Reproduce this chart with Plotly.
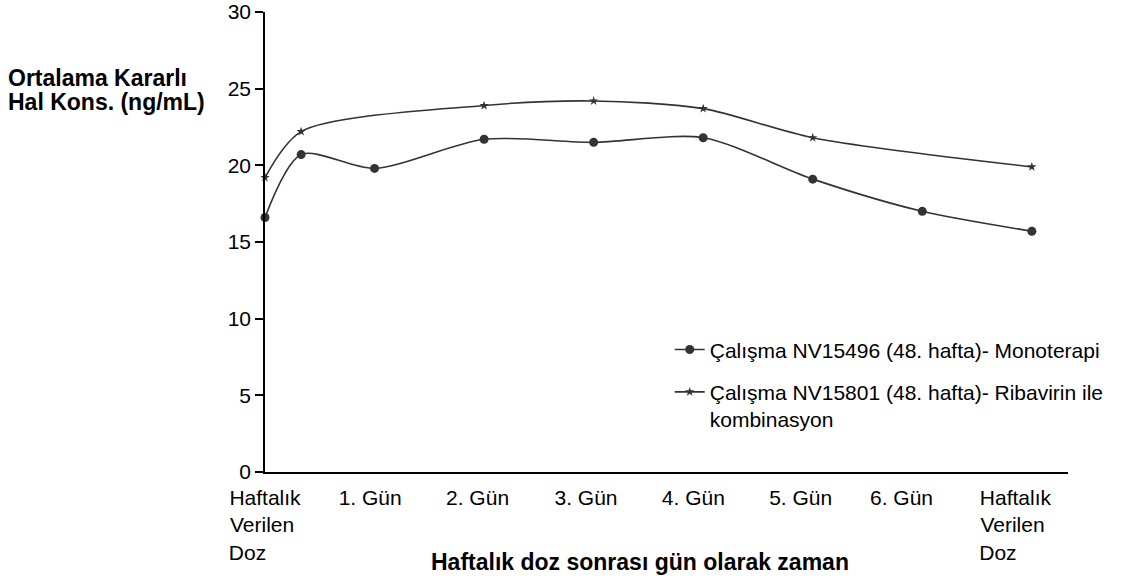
import plotly.graph_objects as go

# Data (days after weekly dose)
days_mono = [0, 0.33, 1, 2, 3, 4, 5, 6, 7]
conc_mono = [16.6, 20.7, 19.8, 21.7, 21.5, 21.8, 19.1, 17.0, 15.7]

days_combo = [0, 0.33, 2, 3, 4, 5, 7]
conc_combo = [19.2, 22.2, 23.9, 24.2, 23.7, 21.8, 19.9]

name_mono = "Çalışma NV15496 (48. hafta)- Monoterapi"
name_combo = "Çalışma NV15801 (48. hafta)- Ribavirin ile<br>kombinasyon"

NB = "\u00a0"
dose_label = "Haftalık<br>Verilen" + NB + "<br>Doz" + NB * 6
tick_pos = [0, 0.96, 1.94, 2.93, 3.91, 4.89, 5.81, 6.85]
tick_text = [dose_label, "1. Gün", "2. Gün", "3. Gün", "4. Gün",
             "5. Gün", "6. Gün", dose_label]

y_title_lines = ["Ortalama Kararlı", "Hal Kons. (ng/mL)"]
x_title = "Haftalık doz sonrası gün olarak zaman"

FONT = "Liberation Sans, Arial, sans-serif"
LINE = "#333333"

fig = go.Figure()
fig.add_trace(go.Scatter(
    x=days_mono, y=conc_mono, name=name_mono, mode="lines+markers",
    line=dict(color=LINE, width=1.6, shape="spline", smoothing=0.8),
    marker=dict(symbol="circle", size=9, color=LINE),
    cliponaxis=False, legendgroup="a"))
fig.add_trace(go.Scatter(
    x=days_combo, y=conc_combo, name=name_combo, mode="lines+markers",
    line=dict(color=LINE, width=1.6, shape="spline", smoothing=0.8),
    marker=dict(symbol="star", size=7, color=LINE),
    cliponaxis=False, legendgroup="b"))

fig.update_layout(
    width=1121, height=583,
    margin=dict(l=265, r=53, t=12, b=111, autoexpand=False),
    plot_bgcolor="white", paper_bgcolor="white",
    font=dict(family=FONT, size=21, color="black"),
    showlegend=True,
    legend=dict(x=0.504, y=0.31, xanchor="left", yanchor="top",
                bgcolor="rgba(0,0,0,0)", font=dict(size=21, family=FONT),
                valign="top", tracegroupgap=12, itemwidth=30),
    xaxis=dict(range=[0, 7.33], tickmode="array", tickvals=tick_pos, ticktext=tick_text,
               showline=True, linecolor="black", linewidth=1.5, ticks="",
               showgrid=False, zeroline=False, tickfont=dict(size=21),
               ticklabelstandoff=6, automargin=False, fixedrange=True),
    yaxis=dict(range=[0, 30], tickmode="linear", tick0=0, dtick=5,
               showline=True, linecolor="black", linewidth=1.5,
               ticks="outside", ticklen=8, tickcolor="black", tickwidth=1.5,
               showgrid=False, zeroline=False, tickfont=dict(size=21),
               ticklabeloverflow="allow", automargin=False),
    annotations=[
        dict(text="<b>" + y_title_lines[0] + "</b>", xref="paper", yref="paper",
             x=-0.322, y=(472 - 78) / 460, xanchor="left", yanchor="middle",
             showarrow=False, font=dict(size=23, family=FONT)),
        dict(text="<b>" + y_title_lines[1] + "</b>", xref="paper", yref="paper",
             x=-0.322, y=(472 - 102) / 460, xanchor="left", yanchor="middle",
             showarrow=False, font=dict(size=23, family=FONT)),
        dict(text="<b>" + x_title + "</b>", xref="paper", yref="paper",
             x=0.467, y=-0.196, xanchor="center", yanchor="middle",
             showarrow=False, font=dict(size=23, family=FONT)),
    ],
)

fig.write_html("out.html", config={"displayModeBar": False},
               post_script="document.body.style.margin='0';")
